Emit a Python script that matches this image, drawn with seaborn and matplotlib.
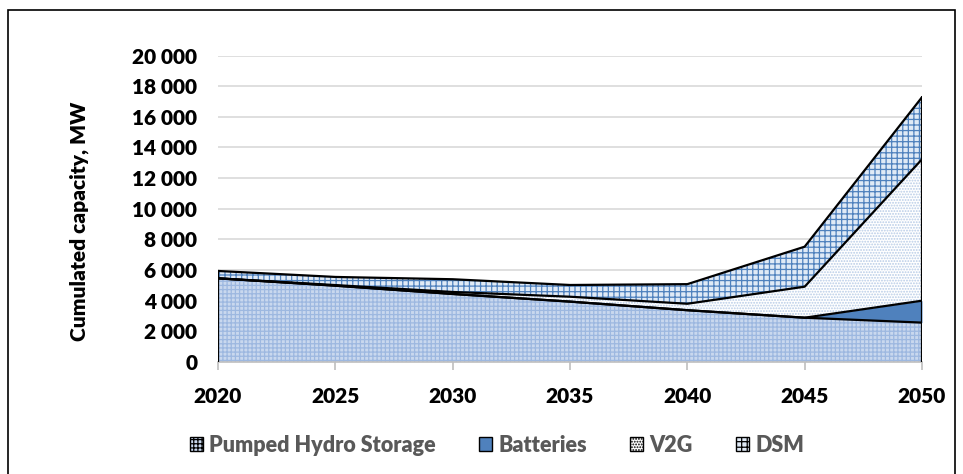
import numpy as np
import pandas as pd
import matplotlib
matplotlib.use("Agg")
import matplotlib.pyplot as plt
import matplotlib.patches as mpatches
import seaborn as sns

# data (MW)
years = [2020, 2025, 2030, 2035, 2040, 2045, 2050]
pumped_hydro = [5460, 4980, 4440, 3940, 3380, 2890, 2570]
batteries = [0, 0, 0, 0, 0, 0, 1430]
v2g = [0, 40, 130, 320, 420, 2025, 9230]
dsm = [480, 530, 830, 765, 1280, 2610, 4050]

series_names = ["Pumped Hydro Storage", "Batteries", "V2G", "DSM"]

sns.set_theme(style="white")
plt.rcParams["font.family"] = ["Lato", "DejaVu Sans"]
plt.rcParams["hatch.linewidth"] = 0.9

df = pd.DataFrame({"year": years, "Pumped Hydro Storage": pumped_hydro,
                   "Batteries": batteries, "V2G": v2g, "DSM": dsm})
cum = df[series_names].cumsum(axis=1)

fig = plt.figure(figsize=(9.63, 4.74), dpi=100)
ax = fig.add_axes([218 / 963, (474 - 362) / 474, (922 - 218) / 963, (362 - 55.5) / 474])

# fill styles: (face, hatch colour, hatch)
styles = {
    "Pumped Hydro Storage": ("#C9D8EE", "#9DB8E0", "++++"),
    "Batteries": ("#4F81BD", "#4F81BD", None),
    "V2G": ("white", "#B7CBE6", "......"),
    "DSM": ("#E0EAF6", "#4F81BD", "+++"),
}

lower = np.zeros(len(years))
handles = []
for name in series_names:
    upper = cum[name].values
    face, hcol, hatch = styles[name]
    ax.fill_between(years, lower, upper, facecolor=face, edgecolor=hcol,
                    hatch=hatch, linewidth=0, zorder=2)
    handles.append(mpatches.Patch(facecolor=face, edgecolor="black", hatch=hatch,
                                  linewidth=1.0, label=name))
    lower = upper

# black outlines of each stacked layer
for name in series_names:
    sns.lineplot(x=years, y=cum[name].values, ax=ax, color="black",
                 linewidth=1.6, zorder=3)
ax.plot([2020, 2020], [0, cum["DSM"].iloc[0]], color="black", lw=1.6, zorder=3)
ax.plot([2050, 2050], [0, cum["DSM"].iloc[-1]], color="black", lw=1.6, zorder=3)

ax.set_xlim(2020, 2050)
ax.set_ylim(0, 20000)
ax.set_xticks(years)
ax.set_yticks(range(0, 20001, 2000))
ax.set_yticklabels([f"{v:,}".replace(",", " ") for v in range(0, 20001, 2000)])
ax.yaxis.grid(True, color="#D9D9D9", linewidth=1.2, zorder=0)
ax.set_axisbelow(True)

for side in ["top", "right", "left"]:
    ax.spines[side].set_visible(False)
ax.spines["bottom"].set_color("#BFBFBF")
ax.spines["bottom"].set_linewidth(1.2)

ax.tick_params(axis="x", which="major", bottom=True, length=6, width=1.2,
               color="#BFBFBF", pad=12, labelsize=15)
ax.tick_params(axis="y", left=False, pad=9, labelsize=15)
for lab in ax.get_xticklabels() + ax.get_yticklabels():
    lab.set_fontweight("heavy")
    lab.set_color("black")

ax.set_ylabel("Cumulated capacity, MW", fontsize=15, fontweight="heavy",
              color="black")
ax.yaxis.set_label_coords(-0.183, 0.46)

leg = fig.legend(handles=handles, loc="center", bbox_to_anchor=(497 / 963, 1 - 445 / 474),
                 ncol=4, frameon=False, handlelength=0.6, handleheight=0.6,
                 handletextpad=0.3, columnspacing=2.0,
                 prop={"weight": "heavy", "size": 15.5})
for t in leg.get_texts():
    t.set_color("#595959")

# outer chart border
fig.patches.append(mpatches.Rectangle((8 / 963, -0.05), (955 - 8) / 963, 1.05 - 10 / 474,
                                      transform=fig.transFigure, fill=False,
                                      edgecolor="black", linewidth=1.2))

fig.savefig("out.png", dpi=100)
